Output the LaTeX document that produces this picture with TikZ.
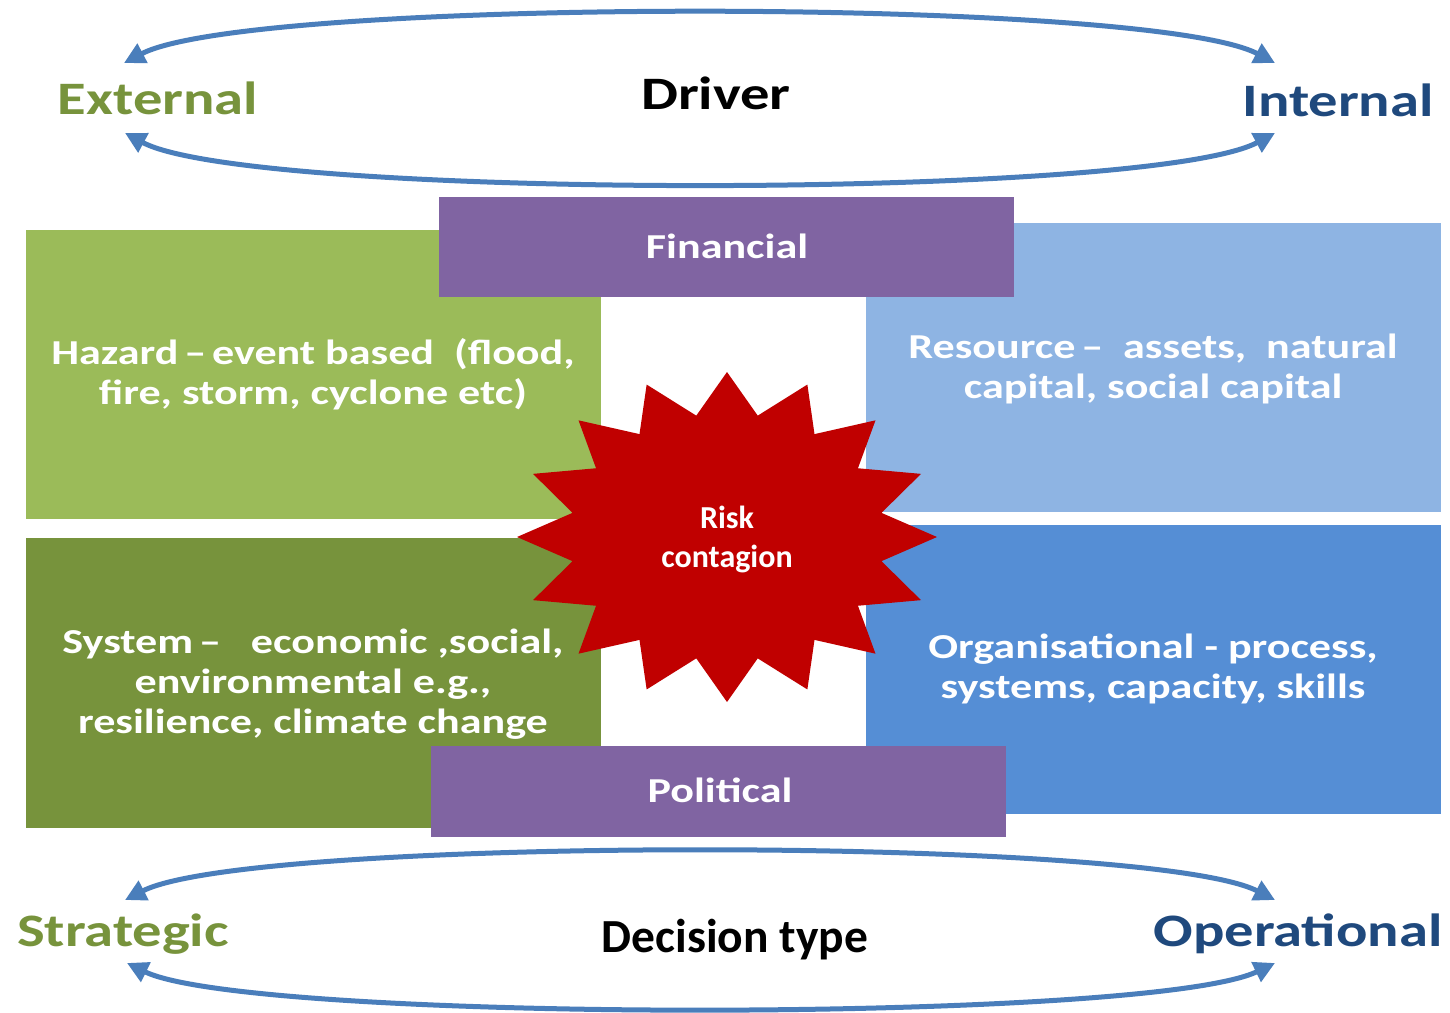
\documentclass[tikz,border=0pt]{standalone}
\usepackage{fontspec}
\usetikzlibrary{arrows.meta}
\newfontfamily\widefont{Carlito}[FakeStretch=1.26]
\newfontfamily\calfont{Carlito}
\definecolor{gLight}{HTML}{9BBB59}
\definecolor{gDark}{HTML}{77933C}
\definecolor{bLight}{HTML}{8EB4E3}
\definecolor{bMid}{HTML}{558ED5}
\definecolor{purp}{HTML}{8064A2}
\definecolor{riskred}{HTML}{C00000}
\definecolor{arrowblue}{HTML}{4A7EBB}
\definecolor{navy}{HTML}{1F497D}
\begin{document}
\begin{tikzpicture}[x=1pt,y=-1pt,
  boxfill/.style={draw=none,inner sep=0pt,anchor=north west},
  boxtext/.style={text=white,align=center,anchor=base,inner sep=0pt,
    font=\widefont\bfseries\fontsize{35}{40}\selectfont},
  heading/.style={anchor=base,inner sep=0pt,font=\widefont\bfseries\fontsize{46.5}{50}\selectfont},
  biarrow/.style={draw=arrowblue,line width=5pt,{Triangle[length=21pt,width=21pt]}-{Triangle[length=21pt,width=21pt]}}
]
\fill[white] (0,0) rectangle (1450,1012);
\useasboundingbox (0,0) rectangle (1450,1012);

% quadrant boxes
\node[boxfill,fill=gLight,minimum width=575pt,minimum height=289pt] (hazbox) at (26,230) {};
\node[boxfill,fill=gDark,minimum width=575pt,minimum height=290pt] (sysbox) at (26,538) {};
\node[boxfill,fill=bLight,minimum width=575pt,minimum height=289pt] (resbox) at (866,223) {};
\node[boxfill,fill=bMid,minimum width=575pt,minimum height=289pt] (orgbox) at (866,525) {};
\node[boxfill,fill=purp,minimum width=575pt,minimum height=100pt] (finbox) at (439,197) {};
\node[boxfill,fill=purp,minimum width=575pt,minimum height=91pt] (polbox) at (431,746) {};

% box texts (anchor base = baseline of the last line)
\node[boxtext] (haz) at (313,404) {Hazard\,–\,event based\ \ (flood,\\fire, storm, cyclone etc)};
\node[boxtext] (sys) at (313,733) {System\,–\ \ \ economic ,social,\\environmental e.g.,\\resilience, climate change};
\node[boxtext] (res) at (1153,398) {Resource\,–\ \ assets,\ \ natural\\capital, social capital};
\node[boxtext] (org) at (1153,698) {Organisational - process,\\systems, capacity, skills};
\node[boxtext] (fin) at (727,258) {Financial};
\node[boxtext] (pol) at (720,802) {Political};

% star
\fill[riskred] (727,372)
  \foreach \i in {0,...,15} {
    -- ({727+157.5*cos(101.25+22.5*\i)},{537-123.75*sin(101.25+22.5*\i)})
    -- ({727+210*cos(90+22.5*(\i+1))},{537-165*sin(90+22.5*(\i+1))})
  } -- cycle;
\node[text=white,align=center,inner sep=0pt,anchor=base,
  font=\calfont\bfseries\fontsize{32}{39}\selectfont] (risk) at (727,567) {Risk\\contagion};

% headings
\node[heading,text=gDark] (ext) at (158,114) {External};
\node[heading,text=black] (drv) at (716,109) {Driver};
\node[heading,text=navy] (int) at (1338,116) {Internal};
\node[heading,text=gDark] (str) at (123,946) {Strategic};
\node[heading,text=navy] (ope) at (1298,946) {Operational};
\node[anchor=base,inner sep=0pt,font=\calfont\bfseries\fontsize{47.5}{50}\selectfont] (dec) at (735,952) {Decision type};

% arrow end points
\coordinate (tL1) at (124,63);
\coordinate (tR1) at (1275,63);
\coordinate (tL2) at (125,133);
\coordinate (tR2) at (1275,133);
\coordinate (bL1) at (125,900);
\coordinate (bR1) at (1275,900);
\coordinate (bL2) at (127,963);
\coordinate (bR2) at (1275,963);

\draw[biarrow] (tL1) .. controls (250,-3) and (1150,-3) .. (tR1);
\draw[biarrow] (tL2) .. controls (250,200) and (1150,200) .. (tR2);
\draw[biarrow] (bL1) .. controls (250,836) and (1150,836) .. (bR1);
\draw[biarrow] (bL2) .. controls (250,1023) and (1150,1023) .. (bR2);
\end{tikzpicture}
\end{document}
